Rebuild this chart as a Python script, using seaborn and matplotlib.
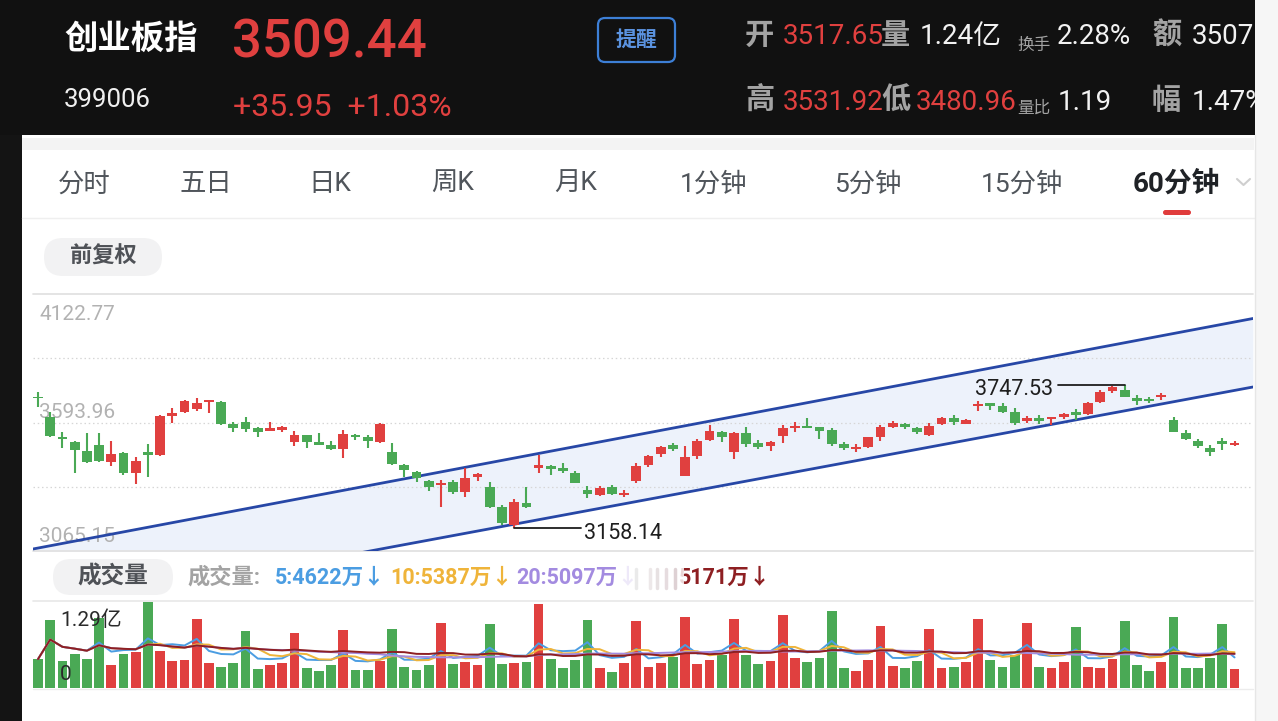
import numpy as np
import pandas as pd
import matplotlib
matplotlib.use("Agg")
import matplotlib.pyplot as plt
import seaborn as sns
from matplotlib.patches import Rectangle, FancyBboxPatch
from matplotlib.lines import Line2D

sns.set_theme(style="white")
plt.rcParams['font.family'] = ['Roboto', 'Noto Sans CJK SC', 'DejaVu Sans']
plt.rcParams['axes.unicode_minus'] = False

# ---------------- data (60-minute candles, 创业板指) ----------------
opens = [3698.9, 3617.8, 3535.5, 3514.9, 3476.7, 3501.4, 3432.6, 3467.2, 3387.5, 3471.3,
         3460.2, 3620.7, 3635.9, 3648.3, 3677.1, 3677.1, 3586.6, 3594.8, 3570.1, 3560.2,
         3563.1, 3514.9, 3542.5, 3514.9, 3501.4, 3484.9, 3542.5, 3533.1, 3512.5, 3473.8,
         3419.1, 3391.5, 3354.5, 3336.8, 3350.3, 3309.2, 3370.9, 3327.3, 3245.0, 3172.2,
         3263.9, 3407.9, 3416.2, 3405.5, 3387.4, 3316.2, 3295.6, 3327.3, 3295.6, 3354.5,
         3419.1, 3463.1, 3501.4, 3375.0, 3456.1, 3521.9, 3556.1, 3473.8, 3549.5, 3508.4,
         3498.5, 3539.6, 3570.1, 3580.8, 3574.2, 3563.1, 3504.3, 3484.9, 3491.9, 3533.1,
         3576.7, 3587.8, 3572.6, 3542.5, 3586.6, 3611.2, 3587.8, 3661.9, 3672.9, 3661.9,
         3638.4, 3601.4, 3611.2, 3607.1, 3617.8, 3638.4, 3627.7, 3677.1, 3724.8, 3727.7,
         3693.5, 3689.4, 3697.7, 3604.2, 3549.5, 3519.1, 3490.3, 3517.65, 3501.4]
highs = [3720.7, 3638.4, 3556.1, 3517.8, 3549.5, 3549.5, 3517.8, 3473.8, 3453.2, 3504.3,
         3624.8, 3654.9, 3686.6, 3693.5, 3686.6, 3682.4, 3597.3, 3617.8, 3576.7, 3594.8,
         3580.8, 3559.0, 3542.5, 3552.0, 3519.1, 3563.1, 3545.4, 3542.5, 3590.7, 3510.9,
         3423.2, 3394.4, 3357.3, 3357.3, 3357.3, 3408.4, 3387.4, 3350.3, 3254.5, 3278.0,
         3329.8, 3460.2, 3419.1, 3428.5, 3394.4, 3332.6, 3332.6, 3336.8, 3316.2, 3426.1,
         3460.2, 3497.2, 3508.4, 3498.5, 3524.8, 3583.7, 3559.0, 3553.6, 3574.2, 3521.9,
         3517.8, 3583.7, 3594.8, 3613.7, 3576.7, 3572.6, 3514.9, 3504.3, 3535.5, 3583.7,
         3600.1, 3590.7, 3576.7, 3590.7, 3617.8, 3624.8, 3608.4, 3683.7, 3674.2, 3672.9,
         3652.4, 3620.7, 3624.8, 3617.8, 3631.8, 3648.3, 3679.6, 3727.7, 3745.0, 3747.53,
         3707.1, 3700.1, 3716.6, 3617.8, 3563.1, 3526.1, 3501.4, 3531.92, 3519.1]
lows = [3659.0, 3533.1, 3490.3, 3384.9, 3426.1, 3432.6, 3416.2, 3378.0, 3339.6, 3371.0,
        3457.4, 3590.7, 3634.3, 3641.3, 3634.3, 3583.7, 3553.6, 3553.6, 3535.5, 3560.2,
        3553.6, 3498.5, 3487.8, 3501.4, 3480.8, 3449.1, 3522.0, 3490.3, 3510.9, 3419.1,
        3371.0, 3350.3, 3312.1, 3247.5, 3299.7, 3286.2, 3354.5, 3240.9, 3172.2, 3158.14,
        3243.0, 3384.9, 3378.0, 3384.9, 3343.8, 3282.0, 3291.5, 3295.6, 3288.6, 3343.8,
        3412.1, 3453.2, 3476.7, 3373.8, 3443.8, 3519.1, 3512.5, 3443.8, 3494.4, 3484.9,
        3476.7, 3508.4, 3556.1, 3570.1, 3526.1, 3498.5, 3480.8, 3471.3, 3487.8, 3517.8,
        3572.6, 3567.2, 3545.4, 3539.6, 3583.7, 3583.7, 3586.6, 3642.5, 3645.4, 3634.3,
        3583.7, 3590.7, 3587.8, 3583.7, 3607.1, 3604.2, 3624.8, 3675.4, 3716.6, 3697.7,
        3666.0, 3673.0, 3686.6, 3553.6, 3521.9, 3487.8, 3456.1, 3480.96, 3497.2]
closes = [3694.8, 3538.4, 3526.1, 3480.8, 3430.2, 3435.5, 3464.2, 3384.9, 3436.8, 3459.3,
          3620.7, 3634.3, 3683.7, 3675.4, 3686.6, 3587.8, 3570.1, 3566.0, 3553.6, 3572.6,
          3576.7, 3542.5, 3512.5, 3501.4, 3484.9, 3545.4, 3535.5, 3519.1, 3587.8, 3423.2,
          3398.5, 3364.3, 3327.3, 3346.2, 3309.2, 3366.8, 3382.0, 3245.0, 3179.1, 3268.1,
          3245.0, 3419.1, 3402.6, 3394.4, 3346.2, 3299.7, 3323.2, 3299.7, 3305.1, 3415.0,
          3456.1, 3494.4, 3484.9, 3453.2, 3517.8, 3559.0, 3535.5, 3549.5, 3505.5, 3494.4,
          3512.5, 3572.6, 3580.8, 3570.1, 3560.2, 3504.3, 3487.8, 3494.4, 3533.1, 3574.2,
          3590.7, 3574.2, 3553.6, 3580.8, 3611.2, 3597.3, 3604.2, 3670.1, 3661.9, 3638.4,
          3590.7, 3613.7, 3601.4, 3617.8, 3628.9, 3624.8, 3672.9, 3720.7, 3741.3, 3700.1,
          3683.7, 3682.4, 3707.1, 3556.1, 3524.8, 3497.2, 3473.49, 3505.5, 3509.44]
# volume in 万 (10k lots)
volumes = [4350, 10250, 4000, 5100, 4400, 10500, 3400, 5150, 5400, 12900,
           5500, 4000, 4200, 10400, 3800, 3200, 3700, 8550, 2900, 3400,
           3750, 8300, 3000, 2600, 3400, 8750, 2650, 2650, 4000, 8850,
           3150, 2650, 3450, 9750, 3600, 3950, 3400, 9650, 3650, 3750,
           3900, 12700, 4400, 3000, 4150, 10250, 2950, 2350, 3750, 10150,
           3100, 3800, 4600, 10750, 3650, 4150, 5000, 10350, 4900, 3550,
           4000, 10950, 4500, 3850, 4550, 11600, 3050, 2600, 4250, 9400,
           3350, 2950, 4000, 8850, 3000, 3150, 3850, 10400, 4150, 3100,
           5000, 9800, 3150, 2950, 3900, 9250, 3200, 3050, 4350, 10150,
           3500, 2600, 3950, 10650, 3050, 3000, 4500, 9600, 2850]
ma_windows = [5, 10, 20, 30]
ma_colors = ['#4b9de2', '#efb43a', '#a38be0', '#8e1f22']

# channel (trend lines) end points: candle index, price
channel_x = [-0.41, 99.5]
channel_upper = [3073.4, 4021.9]
channel_lower = [2807.4, 3740.0]

price_levels = [4122.77, 3593.96, 3065.15]
grid_levels = [3858.37, 3593.96, 3329.56]
low_mark = (39, 3158.14)
high_mark = (89, 3747.53)

tabs = ['分时', '五日', '日K', '周K', '月K', '1分钟', '5分钟', '15分钟', '60分钟']
tab_x = [84, 206, 330, 453, 576, 714, 868, 1022, 1176]

RED = '#e0403f'
GREEN = '#4aa955'

# ---------------- figure ----------------
W, H = 1278, 721
fig = plt.figure(figsize=(W / 100, H / 100), dpi=100, facecolor='white')

bg = fig.add_axes([0, 0, 1, 1])
bg.set_xlim(0, W)
bg.set_ylim(H, 0)
bg.axis('off')

def rect(x0, y0, x1, y1, c, z=1, alpha=1.0):
    bg.add_patch(Rectangle((x0, y0), x1 - x0, y1 - y0, facecolor=c, edgecolor='none',
                           zorder=z, alpha=alpha))

def txt(x, y, s, size, color, ha='left', va='center', weight='normal', z=5):
    bg.text(x, y, s, fontsize=size, color=color, ha=ha, va=va, fontweight=weight, zorder=z)

# header
rect(0, 0, 1256, 135, '#111111')
rect(0, 135, 22, H, '#141414')
rect(22, 138, 1254, 150, '#f3f3f3')
rect(1255, 0, W, H, '#f6f6f6', z=10)
bg.add_line(Line2D([1254.5, 1254.5], [135, H], color='#e6e6e6', lw=1, zorder=11))

txt(64, 40, '创业板指', 24, '#ffffff', weight='bold')
txt(232, 43, '3509.44', 38, RED, weight='medium')
txt(64, 100, '399006', 18.5, '#f0f0f0')
txt(233, 108, '+35.95  +1.03%', 23, RED)

bg.add_patch(FancyBboxPatch((598, 18), 77, 44, boxstyle='round,pad=0,rounding_size=7',
                            facecolor='none', edgecolor='#3d7fd6', lw=1.6, zorder=5))
txt(636.5, 40, '提醒', 15, '#5b93e0', ha='center', weight='bold')

GRAY_H = '#a3a3a3'
WHITE_H = '#f2f2f2'
txt(745, 36, '开', 21, GRAY_H, weight='bold')
txt(783, 37, '3517.65', 20, RED)
txt(881, 36, '量', 21, GRAY_H, weight='bold')
txt(920, 36, '1.24亿', 20, WHITE_H)
txt(1017, 45, '换手', 12, GRAY_H)
txt(1057, 37, '2.28%', 20, WHITE_H)
txt(1152, 36, '额', 21, GRAY_H, weight='bold')
txt(1192, 37, '3507', 20, WHITE_H)

txt(745, 101, '高', 21, GRAY_H, weight='bold')
txt(783, 102, '3531.92', 20, RED)
txt(881, 101, '低', 21, GRAY_H, weight='bold')
txt(916, 102, '3480.96', 20, RED)
txt(1017, 108, '量比', 12, GRAY_H)
txt(1058, 102, '1.19', 20, WHITE_H)
txt(1152, 101, '幅', 21, GRAY_H, weight='bold')
txt(1192, 102, '1.47%', 20, WHITE_H)

# tabs
for name, x in zip(tabs, tab_x):
    if name == '60分钟':
        txt(x, 184, name, 20, '#1f2226', ha='center', weight='bold')
    else:
        txt(x, 184, name, 19, '#50555b', ha='center')
bg.add_patch(FancyBboxPatch((1163, 210), 28, 5, boxstyle='round,pad=0,rounding_size=2.5',
                            facecolor='#e03c3c', edgecolor='none', zorder=5))
bg.add_line(Line2D([1237, 1243.5, 1250], [179, 185, 179], color='#cfcfcf', lw=1.5, zorder=5))
bg.add_line(Line2D([22, 1254], [218, 218], color='#efefef', lw=1, zorder=2))

# 前复权 pill
bg.add_patch(FancyBboxPatch((44, 238), 118, 38, boxstyle='round,pad=0,rounding_size=19',
                            facecolor='#f2f2f3', edgecolor='none', zorder=2))
txt(103, 257, '前复权', 16, '#4f5257', ha='center', weight='bold')

# volume header row
bg.add_patch(FancyBboxPatch((53, 559), 120, 36, boxstyle='round,pad=0,rounding_size=18',
                            facecolor='#f2f2f3', edgecolor='none', zorder=2))
txt(113, 577, '成交量', 17, '#4f5257', ha='center', weight='bold')
txt(187, 578, '成交量:', 16, '#a3a3a3', weight='bold')
txt(275, 578, '5:4622万↓', 15.5, ma_colors[0], weight='bold')
txt(390, 578, '10:5387万↓', 15.5, ma_colors[1], weight='bold')
txt(516, 578, '20:5097万↓', 15.5, ma_colors[2], weight='bold')
txt(679, 578, '5171万↓', 15.5, ma_colors[3], weight='bold')
# blurred (masked) part of the label row
rect(622, 563, 684, 594, '#ffffff', z=7, alpha=0.82)
for bx, bc in zip([636, 650, 657, 666, 675], ['#dcdcdc', '#e2d9db', '#d8cdd0', '#d6c6ca', '#c9b3b8']):
    bg.add_line(Line2D([bx, bx], [569, 588], color=bc, lw=2.5, alpha=0.6, zorder=8))

bg.add_line(Line2D([33, 1253], [601, 601], color='#e8e8e8', lw=1.2, zorder=2))
bg.add_line(Line2D([33, 1253], [688.5, 688.5], color='#ececec', lw=1, zorder=2))

# ---------------- price chart ----------------
XL = (-0.41, 99.51)
ax = fig.add_axes([33 / W, 1 - 551 / H, 1220 / W, 257 / H])
ax.patch.set_alpha(0)
ax.set_xlim(*XL)
ax.set_ylim(price_levels[2], price_levels[0])
for s in ax.spines.values():
    s.set_visible(False)
ax.set_xticks([])
ax.set_yticks([])

ax.fill_between(channel_x, channel_lower, channel_upper, color='#edf2fb', zorder=0, lw=0)
for g in grid_levels:
    ax.axhline(g, color='#d6d6d6', lw=0.9, ls=(0, (1.2, 2.2)), zorder=1)
ax.axhline(price_levels[0], color='#e2e2e2', lw=1.3, zorder=1, clip_on=False)
ax.axhline(price_levels[2], color='#e2e2e2', lw=1.3, zorder=1, clip_on=False)

label_offsets = [-20, 9.5, 14]
for lv, off in zip(price_levels, label_offsets):
    ax.annotate(f'{lv:.2f}', xy=(0, lv), xycoords=('axes fraction', 'data'),
                xytext=(6, off), textcoords='offset pixels', ha='left', va='center',
                fontsize=15, color='#b2b2b2', zorder=2)

cdf = pd.DataFrame({'x': channel_x, 'upper': channel_upper, 'lower': channel_lower})
sns.lineplot(data=cdf, x='x', y='upper', ax=ax, color='#2747a6', lw=2.0, zorder=3)
sns.lineplot(data=cdf, x='x', y='lower', ax=ax, color='#2747a6', lw=2.0, zorder=3)
ax.set_xlabel('')
ax.set_ylabel('')
ax.set_xlim(*XL)
ax.set_ylim(price_levels[2], price_levels[0])

o = np.array(opens); c = np.array(closes); hi = np.array(highs); lo = np.array(lows)
idx = np.arange(len(o))
colors = np.where(c >= o, RED, GREEN)
ax.vlines(idx, lo, hi, colors=colors, lw=1.5, zorder=4)
body_h = np.abs(c - o)
min_h = 6.0
mid = (c + o) / 2
bottom = np.where(body_h < min_h, mid - min_h / 2, np.minimum(o, c))
height = np.maximum(body_h, min_h)
ax.bar(idx, height, bottom=bottom, width=0.8, color=colors, zorder=5, lw=0)

# extreme markers
ax.plot([low_mark[0], 44.5], [low_mark[1], low_mark[1]], color='#1e1e1e', lw=1.3, zorder=6)
ax.annotate(f'{low_mark[1]:.2f}', xy=(44.5, low_mark[1]), xytext=(3, -5.5),
            textcoords='offset pixels', ha='left', va='center', fontsize=15.5, color='#1e1e1e', zorder=6)
ax.plot([83.5, high_mark[0]], [high_mark[1], high_mark[1]], color='#1e1e1e', lw=1.3, zorder=6)
ax.annotate(f'{high_mark[1]:.2f}', xy=(83.5, high_mark[1]), xytext=(-4, -4.5),
            textcoords='offset pixels', ha='right', va='center', fontsize=15.5, color='#1e1e1e', zorder=6)

# ---------------- volume chart ----------------
axv = fig.add_axes([33 / W, 1 - 688 / H, 1220 / W, 87 / H])
axv.patch.set_alpha(0)
axv.bar(idx, volumes, width=0.8, color=colors, zorder=2, lw=0)
vdf = pd.DataFrame({'x': idx, 'vol': volumes})
for n, col in zip(ma_windows, ma_colors):
    vdf[f'ma{n}'] = vdf['vol'].rolling(n, min_periods=1).mean()
    sns.lineplot(data=vdf, x='x', y=f'ma{n}', ax=axv, color=col, lw=1.4, zorder=3)
axv.set_xlim(*XL)
axv.set_ylim(0, 13100)
axv.set_xlabel('')
axv.set_ylabel('')
axv.set_xticks([])
axv.set_yticks([])
for s in axv.spines.values():
    s.set_visible(False)

fig.text(60 / W, 1 - 620 / H, '1.29亿', fontsize=15, color='#2a2a2a', ha='left', va='center', zorder=10)
fig.text(60 / W, 1 - 675 / H, '0', fontsize=15, color='#2a2a2a', ha='left', va='center', zorder=10)

fig.savefig('out.png', dpi=100, facecolor='white')
